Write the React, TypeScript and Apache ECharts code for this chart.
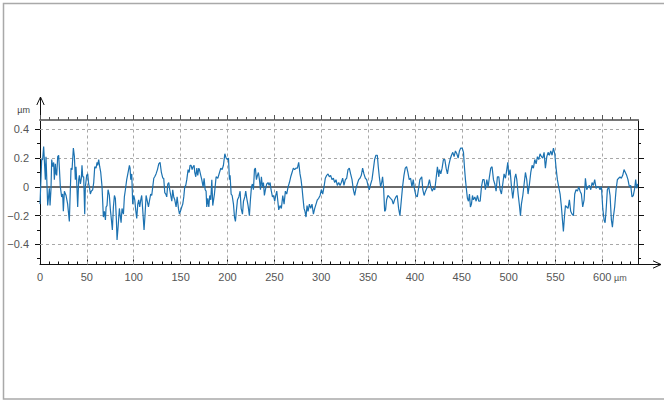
import React, { useEffect, useRef } from "react";
import * as echarts from "echarts";

// Surface profile (x in µm, height in µm)
const profile: [number, number][] = [
  [0,-0.12],[1.8,0.19],[2.8,0.19],[3.9,0.28],[4.6,0.28],[5.7,0.05],[6.4,0.21],[8.2,-0.13],[10,-0.01],[10.7,-0.13],
  [11.7,-0.02],[12.5,0.19],[13.5,0.14],[14.6,0.17],[15.3,0.05],[16.4,0.16],[17.1,0.09],[17.8,0.08],[18.9,0.21],[19.9,0.22],
  [20.6,0.14],[21.7,0],[23.1,-0.07],[24.2,-0.05],[24.9,-0.17],[26,-0.03],[27.8,-0.06],[29.5,-0.12],[31.3,-0.24],[32,-0.09],
  [33.1,0.13],[34.2,0.12],[35.6,0.27],[36.7,0.21],[37.7,0.05],[38.4,0.14],[39.1,0.05],[40.2,-0.14],[41.3,0.05],[42,0.08],
  [43.1,0.02],[44.1,0.06],[44.8,0.15],[45.6,0.07],[46.6,0.07],[47.7,-0.19],[48.4,0],[49.8,0.08],[50.9,0.09],[51.9,0.02],
  [52.7,0],[53.7,-0.05],[54.8,-0.03],[56.2,-0.02],[57.3,0.03],[58.4,0.14],[59.8,0.13],[60.9,0.17],[61.6,0.15],[62.6,0.19],
  [63.7,0.14],[64.8,0.1],[65.5,0.05],[66.2,0],[67.6,-0.21],[68.7,-0.17],[69.8,-0.23],[70.5,-0.14],[71.5,-0.13],[72.6,-0.02],
  [74,-0.06],[75.1,-0.16],[76.2,-0.23],[77.2,-0.3],[78.3,-0.14],[79.4,-0.06],[80.4,-0.08],[81.5,-0.23],[82.2,-0.37],[83.3,-0.28],
  [84.7,-0.15],[85.4,-0.19],[86.5,-0.25],[87.5,-0.15],[89,-0.19],[90,-0.07],[91.1,-0.02],[92.5,0.05],[94,0.1],[95.4,0.15],
  [96.1,0.13],[96.8,0.05],[97.9,0.09],[98.9,-0.12],[100,-0.06],[101.1,-0.09],[102.1,-0.16],[103.2,-0.22],[104.3,-0.12],[105.3,-0.09],
  [106.4,-0.14],[107.5,-0.09],[108.5,-0.06],[109.6,-0.16],[111,-0.3],[112.1,-0.19],[113.2,-0.06],[114.2,-0.09],[115.7,-0.14],[116.7,-0.1],
  [118.1,-0.05],[119.2,-0.06],[120.3,0],[121.4,0.06],[122.4,0.07],[123.8,0.09],[125.3,0.12],[126.7,0.16],[128.1,0.17],[129.5,0.1],
  [131,0.06],[132,0.06],[133.1,-0.04],[134.2,-0.05],[135.2,-0.07],[136.3,0.02],[137.4,0.03],[138.4,-0.02],[139.5,-0.06],[140.6,-0.1],
  [141.6,-0.02],[142.7,-0.07],[143.8,-0.09],[145.2,-0.14],[146.3,-0.07],[147.7,-0.15],[148.8,-0.19],[149.8,-0.17],[151.2,-0.14],[152.3,-0.12],
  [153.4,-0.07],[154.4,0],[155.5,0.01],[156.6,0.05],[158,0.12],[159.1,0.1],[160.1,0.15],[161.2,0.15],[162.3,0.12],[163.3,0.14],
  [164.4,0.15],[165.1,0.1],[166.2,0.07],[167.3,0.13],[168.3,0.08],[169.4,0.13],[170.1,0.12],[171.5,0.08],[172.6,0.05],[174,0],
  [175.1,0.06],[176.2,-0.02],[177.2,-0.03],[177.9,-0.14],[179,-0.08],[180.1,-0.14],[181.1,-0.06],[182.2,-0.09],[183.3,0.05],[184.3,-0.13],
  [186.1,-0.05],[187.9,0.07],[189.7,0.06],
  [192.9,0.13],[194.3,0.12],[195.7,0.15],[197.2,0.23],[198.6,0.2],[200,0.19],[201.1,0.2],[202.1,0.05],[202.8,0.08],[203.9,-0.05],
  [205,-0.06],[206.4,-0.12],[207.5,-0.21],[208.5,-0.24],[209.6,-0.16],[210.7,-0.09],[212.1,-0.07],[213.5,-0.03],[214.6,-0.15],[216,-0.19],
  [217.1,-0.1],[218.5,-0.07],[219.5,-0.03],[220.6,-0.08],[222,-0.13],[223.4,-0.2],[224.5,-0.09],[225.6,0],[226.6,0.02],[227.7,-0.02],
  [228.8,0.12],[229.8,0.13],[230.9,0.05],[232,0.08],[233,0.1],[234.1,0.05],[235.2,-0.02],[236.2,0.07],[237.3,0],[238.4,0.03],
  [239.4,-0.06],[240.5,-0.02],[241.9,0.02],[243.3,0.03],[244.4,0.01],[245.5,0.03],[246.5,-0.02],[248,-0.07],[249,-0.06],[250.4,-0.1],
  [251.5,-0.06],[252.6,-0.03],[253.6,-0.09],[254.7,-0.16],[256.1,-0.13],[257.5,-0.15],[259,-0.06],[260.4,-0.12],[261.8,-0.03],[263.2,-0.05],
  [264.7,0],[266.1,0.03],[267.5,0.07],[268.9,0.1],[270.3,0.13],[271.7,0.12],[273.1,0.13],[274.6,0.13],[276,0.17],[277.4,0.09],
  [278.5,0.05],[279.6,-0.01],[280.6,-0.08],[281.7,-0.15],[282.7,-0.17],[283.8,-0.21],[284.9,-0.13],[286,-0.17],[287.4,-0.12],[288.8,-0.15],
  [290.2,-0.12],[291.7,-0.19],[293.1,-0.15],[294.5,-0.12],[295.9,-0.09],[297.3,-0.08],[298.8,-0.06],[300.2,-0.02],[301.6,-0.05],[303,0],
  [304.4,0.06],[305.9,0.08],[307.3,0.09],[308.7,0.07],[310.1,0.08],[311.5,0.05],[313,0.06],[314.4,0.03],[315.8,0.05],[317.2,0.01],
  [318.7,0.03],[320.1,0.01],[321.5,0.03],[322.9,0.06],[324.3,0.01],[325.8,0.05],[327.2,0.06],[328.6,0.12],[330,0.13],[331.4,0.09],
  [332.9,0.05],[334.3,-0.02],[335.7,-0.06],[337.1,-0.01],[338.5,0.02],[340,0.05],[341.4,0.06],[342.8,0.08],[344.2,0.13],[345.6,0.09],
  [347.1,0.06],[348.5,0.05],[349.9,0.01],[351.3,-0.02],[352.8,0.02],[354.2,0.05],[355.6,0.12],[357,0.19],[358.4,0.22],[359.9,0.22],
  [360.9,0.14],[362,0.07],[363.4,0],[364.5,0.03],[365.5,0.07],[366.6,-0.01],[367.7,-0.17],[368.7,-0.16],[369.8,-0.09],[371.2,-0.06],
  [372.6,-0.07],[374,-0.08],[375.5,-0.09],[376.9,-0.12],[378.3,-0.09],[379.7,-0.07],[381.1,-0.06],[382.6,-0.15],[384,-0.2],[385.4,-0.1],
  [386.8,0],[388.3,0.08],[389.7,0.13],[391.1,0.14],[392.5,0.1],[393.9,0.05],[395.4,0.06],[396.8,0],[398.2,0.05],[399.6,-0.02],
  [401,-0.06],[402.5,-0.07],[403.9,-0.01],[405.3,0.05],
  [407.3,0.07],[408.4,-0.02],[409.8,-0.06],[411.3,-0.03],[412.7,-0.01],[414.1,0.01],[415.5,0.05],[416.9,0],[418.4,-0.03],[419.8,-0.01],
  [421.2,-0.02],[422.6,0.06],[424,0.14],[425.5,0.07],[426.2,0.12],[427.6,0.09],[429,0.13],[430.4,0.19],[431.9,0.19],[433.3,0.13],
  [434.7,0.09],[436.1,0.15],[437.5,0.19],[439,0.22],[440.4,0.24],[441.8,0.21],[443.2,0.25],[444.7,0.23],[446.1,0.2],[447.5,0.25],
  [448.9,0.27],[450.4,0.27],[451.8,0.24],[452.8,0.14],[453.9,0.05],[455,-0.02],[456,-0.08],[457.1,-0.1],[458.2,-0.05],[459.2,-0.14],
  [460.3,-0.12],[461.4,-0.06],[462.4,-0.09],[463.9,-0.07],[465.3,-0.1],[466.7,-0.06],[468.1,-0.1],[469.6,-0.1],[471,0],[472.4,0.05],
  [473.8,0.05],[475.2,-0.02],[476.7,0.05],[478.1,0],[479.5,0.07],[480.9,0.13],[482.3,0.14],[483.8,0.05],[485.2,0.02],[486.6,-0.03],
  [488,0.07],[489.5,0.07],[490.9,-0.02],[492.3,-0.05],[493.7,0.02],[495.1,0.09],[496.6,0.06],[498,0.12],[499.1,0.17],[500.1,0.08],
  [501.5,0.12],[503,0],[504.4,-0.08],[505.5,-0.02],[506.5,0.06],[507.6,0.09],[508.7,0.05],[510.1,-0.05],[511.5,-0.13],[512.6,-0.2],
  [513.6,-0.12],[515.1,-0.06],[516.5,0.02],[517.9,0.1],[519.3,0.05],[520.7,-0.05],[522.2,0.02],[523.6,0.1],[525,0.15],[526.4,0.13],
  [527.9,0.19],[529.3,0.16],[530.7,0.21],[532.1,0.19],[533.5,0.23],[535,0.21],[536.4,0.2],[537.8,0.24],[539.2,0.13],[540.7,0.21],
  [542.1,0.24],[543.5,0.22],[544.9,0.25],[546.3,0.22],[547.8,0.27],[549.2,0.23],[550.6,0.13],[552,0.05],[553.4,0],[554.9,-0.05],
  [556.3,-0.14],[557.4,-0.23],[558.4,-0.31],[559.5,-0.21],[560.6,-0.13],[562,-0.14],[563.4,-0.15],[564.8,-0.09],[566.2,-0.17],[567.7,-0.19],
  [569.1,-0.2],[570.5,-0.05],[571.9,-0.02],[573.4,-0.03],[574.8,0],[576.2,-0.03],[577.6,-0.05],[579,-0.14],[580.5,-0.09],[581.9,0.06],
  [583.3,-0.02],[584.7,0],[586.2,0.01],[587.6,-0.02],[589,0.03],[590.4,0.01],[591.8,0.05],[593.3,-0.01],[594.7,0],[596.1,0],
  [597.5,-0.02],[599,0],[600.4,-0.15],[601.8,-0.23],[602.9,-0.25],[603.9,-0.17],[605.3,-0.02],[606.8,0],[608.2,-0.06],[609.6,-0.23],
  [610.7,-0.28],[611.7,-0.21],[613.1,-0.14],[614.6,-0.02],[616,0.05],[617.4,0.06],[618.8,0.07],[620.2,0.06],[621.7,0.08],[623.1,0.12],
  [624.5,0.1],[625.9,0.08],[627.3,0.05],[628.8,0],[630.2,0.01],[631.6,-0.07],[633,-0.06],[634.5,-0.01],[635.5,0.05],[636.6,-0.01],
  [637.7,0.02],
];

const xMajorValues = [0, 50, 100, 150, 200, 250, 300, 350, 400, 450, 500, 550, 600];
const xMinorValues = [0, 10, 20, 30, 40, 50, 60, 70, 80, 90, 100, 110, 120, 130, 140, 150, 160, 170, 180, 190, 200, 210, 220, 230, 240, 250, 260, 270, 280, 290, 300, 310, 320, 330, 340, 350, 360, 370, 380, 390, 400, 410, 420, 430, 440, 450, 460, 470, 480, 490, 500, 510, 520, 530, 540, 550, 560, 570, 580, 590, 600, 610, 620, 630];
const xGridValues = [50, 100, 150, 200, 250, 300, 350, 400, 450, 500, 550, 600];
const yMajorValues = [-0.4, -0.2, 0, 0.2, 0.4];
const yMinorValues = [-0.5, -0.4, -0.3, -0.2, -0.1, 0, 0.1, 0.2, 0.3, 0.4];
const yGridValues = [-0.4, -0.2, 0.2, 0.4];
const X_MIN = 0;
const X_MAX = 638;
const Y_MIN = -0.54;
const Y_MAX = 0.465;
const UNIT = "µm";

const FONT = "'Liberation Sans', Arial, Helvetica, sans-serif";
const LABEL_COLOR = "#555555";
const LINE_COLOR = "#1c72b1";
const GRID_COLOR = "#a8a8a8";

export default function App() {
  const ref = useRef<HTMLDivElement>(null);

  useEffect(() => {
    if (!ref.current) return;
    const chart = echarts.init(ref.current, null, { renderer: "svg" });

    const baseX = { type: "value", min: X_MIN, max: X_MAX, splitLine: { show: false } };
    const baseY = { type: "value", min: Y_MIN, max: Y_MAX, splitLine: { show: false } };

    const fmtY = (v: number) => {
      if (Math.abs(v) < 1e-9) return "0";
      return (v < 0 ? "\u2212" : "") + Math.abs(v).toFixed(1);
    };

    chart.setOption({
      animation: false,
      backgroundColor: "#ffffff",
      grid: { left: 40, right: 26, top: 120, bottom: 135.5, containLabel: false },
      xAxis: [
        {
          ...baseX,
          position: "bottom",
          axisLine: { show: true, onZero: false, lineStyle: { color: "#111", width: 1 } },
          axisTick: { show: true, inside: true, length: 5, customValues: xMajorValues, lineStyle: { color: "#111" } },
          axisLabel: {
            show: true,
            customValues: xMajorValues,
            margin: 7,
            color: LABEL_COLOR,
            fontSize: 11,
            fontFamily: FONT,
            formatter: (v: number) => (v === 600 ? "{p|}{a|600}{u| " + UNIT + "}" : String(v)),
            rich: {
              p: { width: 15 },
              a: { fontSize: 11, color: LABEL_COLOR, fontFamily: FONT },
              u: { fontSize: 9, color: LABEL_COLOR, fontFamily: FONT, padding: [2, 0, 0, 0] },
            },
          },
        },
        {
          ...baseX,
          position: "bottom",
          axisLine: { show: false, onZero: false },
          axisTick: { show: true, inside: true, length: 3, customValues: xMinorValues, lineStyle: { color: "#111" } },
          axisLabel: { show: false },
        },
        {
          ...baseX,
          position: "top",
          axisLine: { show: true, onZero: false, lineStyle: { color: "#777", width: 2 } },
          axisTick: { show: true, inside: false, length: 5, customValues: xMajorValues, lineStyle: { color: "#555" } },
          axisLabel: { show: false },
        },
        {
          ...baseX,
          position: "top",
          axisLine: { show: false, onZero: false },
          axisTick: { show: true, inside: false, length: 3, customValues: xMinorValues, lineStyle: { color: "#555" } },
          axisLabel: { show: false },
        },
      ],
      yAxis: [
        {
          ...baseY,
          position: "left",
          name: UNIT,
          nameLocation: "end",
          nameGap: 6,
          nameTextStyle: { fontSize: 9, color: "#444", fontFamily: FONT, align: "right", verticalAlign: "bottom", padding: [0, 10, 0, 0] },
          axisLine: { show: true, onZero: false, lineStyle: { color: "#111", width: 1 } },
          axisTick: { show: true, inside: false, length: 5, customValues: yMajorValues, lineStyle: { color: "#111" } },
          axisLabel: { show: true, customValues: yMajorValues, margin: 11, color: LABEL_COLOR, fontSize: 11, fontFamily: FONT, formatter: fmtY },
        },
        {
          ...baseY,
          position: "left",
          axisLine: { show: false, onZero: false },
          axisTick: { show: true, inside: false, length: 3, customValues: yMinorValues, lineStyle: { color: "#111" } },
          axisLabel: { show: false },
        },
        {
          ...baseY,
          position: "right",
          axisLine: { show: true, onZero: false, lineStyle: { color: "#111", width: 1 } },
          axisTick: { show: true, inside: false, length: 6, customValues: yMajorValues, lineStyle: { color: "#111" } },
          axisLabel: { show: false },
        },
        {
          ...baseY,
          position: "right",
          axisLine: { show: false, onZero: false },
          axisTick: { show: true, inside: false, length: 3, customValues: yMinorValues, lineStyle: { color: "#111" } },
          axisLabel: { show: false },
        },
      ],
      series: [
        {
          type: "line",
          xAxisIndex: 0,
          yAxisIndex: 0,
          data: [],
          silent: true,
          z: 1,
          markLine: {
            silent: true,
            symbol: ["none", "none"],
            label: { show: false },
            z: 1,
            lineStyle: { type: [3, 3], color: GRID_COLOR, width: 1 },
            data: [
              ...yGridValues.map((v) => ({ yAxis: v })),
              ...xGridValues.map((v) => ({ xAxis: v })),
              { yAxis: 0, lineStyle: { type: "solid", color: "#6a6a6a", width: 2 } },
            ],
          },
        },
        {
          type: "line",
          xAxisIndex: 0,
          yAxisIndex: 0,
          data: profile,
          showSymbol: false,
          symbol: "none",
          z: 3,
          lineStyle: { color: LINE_COLOR, width: 1.2 },
        },
      ],
      graphic: [
        {
          type: "rect",
          silent: true,
          shape: { x: 3.5, y: 3.5, width: 720, height: 395.5 },
          style: { fill: "none", stroke: "#a9a9a9", lineWidth: 1.5 },
        },
        {
          type: "line",
          silent: true,
          shape: { x1: 40.5, y1: 120, x2: 40.5, y2: 97 },
          style: { stroke: "#111", lineWidth: 1 },
        },
        {
          type: "polyline",
          silent: true,
          shape: { points: [[36.8, 105], [40.5, 97], [44.2, 105]] },
          style: { stroke: "#111", lineWidth: 1, fill: "none" },
        },
        {
          type: "line",
          silent: true,
          shape: { x1: 638, y1: 264.5, x2: 661, y2: 264.5 },
          style: { stroke: "#111", lineWidth: 1 },
        },
        {
          type: "polyline",
          silent: true,
          shape: { points: [[653, 260.8], [661, 264.5], [653, 268.2]] },
          style: { stroke: "#111", lineWidth: 1, fill: "none" },
        },
      ],
    });

    return () => chart.dispose();
  }, []);

  return (
    <div
      ref={ref}
      style={{ position: "fixed", left: 0, top: 0, width: 664, height: 400, background: "#fff" }}
    />
  );
}
